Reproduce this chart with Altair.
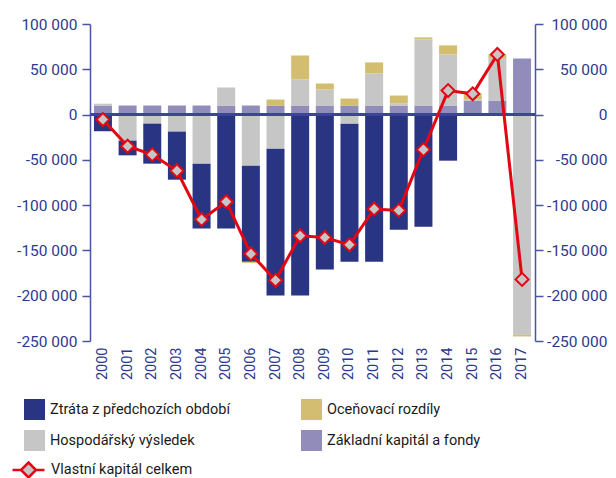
import altair as alt
import pandas as pd

years = [str(y) for y in range(2000, 2018)]

# Základní kapitál a fondy (purple)
zakladni = [10000, 10000, 10000, 10000, 10000, 10000, 10000, 10000, 10000,
            10000, 10000, 10000, 10000, 10000, 10000, 15500, 15500, 62000]
# Hospodářský výsledek (gray)
hospodarsky = [2000, -28800, -10000, -18800, -54200, 19900, -56400, -37600, 28800,
               17700, -10000, 35400, 2200, 73000, 56400, 1000, 47000, -243000]
# Ztráta z předchozích období (navy)
ztrata = [-18400, -16200, -44200, -53100, -71500, -125800, -106200, -162300, -199900,
          -171100, -152600, -162600, -127200, -123900, -50900, 0, -1000, 0]
# Oceňovací rozdíly (gold)
ocenovaci = [0, 0, 0, 0, 0, 0, -1100, 6600, 26500,
             6600, 7700, 12200, 8800, 2200, 10000, 7000, 4000, -2000]
# Vlastní kapitál celkem (line)
celkem = [-5500, -35000, -44200, -62000, -115800, -96200, -153800, -182900, -133800,
          -135700, -143800, -104300, -105800, -38700, 26500, 22900, 66400, -182000]

series_names = ["Základní kapitál a fondy", "Hospodářský výsledek",
                "Ztráta z předchozích období", "Oceňovací rozdíly"]
series_values = [zakladni, hospodarsky, ztrata, ocenovaci]

# column-major legend order (2 columns)
legend_order = ["Ztráta z předchozích období", "Hospodářský výsledek",
                "Oceňovací rozdíly", "Základní kapitál a fondy"]
legend_colors = ["#293583", "#c6c6c6", "#d2bd70", "#928cbb"]

rows = []
for k, (name, vals) in enumerate(zip(series_names, series_values)):
    for y, v in zip(years, vals):
        if v != 0:
            rows.append({"year": y, "series": name, "value": v, "ord": k})
bars_df = pd.DataFrame(rows)
line_df = pd.DataFrame({"year": years, "total": celkem,
                        "s": ["Vlastní kapitál celkem"] * len(years)})

FONT = "Roboto"
AXC = "#2d3a8c"
DOM = "#4a56a0"
ydomain = alt.Scale(domain=[-250000, 100000], nice=False, zero=False)
ticks = [-250000, -200000, -150000, -100000, -50000, 0, 50000, 100000]
lab = "(datum.value < 0 ? '-' : '') + replace(format(abs(datum.value), ','), ',', ' ')"

xenc = alt.X("year:N", title=None,
             scale=alt.Scale(paddingInner=0.27, paddingOuter=0.16),
             axis=alt.Axis(labelAngle=-90, domain=False, ticks=False, tickSize=0,
                           labelPadding=6, labelFont=FONT, labelFontSize=14.5,
                           labelColor=AXC))

left_axis = alt.Axis(orient="left", values=ticks, labelExpr=lab, tickSize=8,
                     labelPadding=5, grid=False, domainColor=DOM, tickColor=DOM,
                     domainWidth=1.5, tickWidth=1.5, labelFont=FONT,
                     labelFontSize=15.5, labelColor=AXC, title=None)
right_axis = alt.Axis(orient="right", values=ticks, labelExpr=lab, tickSize=8,
                      labelPadding=64, labelAlign="right", grid=False,
                      domainColor=DOM, tickColor=DOM, domainWidth=1.5, tickWidth=1.5,
                      labelFont=FONT, labelFontSize=15.5, labelColor=AXC, title=None)

bars = alt.Chart(bars_df).mark_bar().encode(
    x=xenc,
    y=alt.Y("value:Q", stack="zero", scale=ydomain, axis=left_axis),
    color=alt.Color("series:N",
                    scale=alt.Scale(domain=legend_order, range=legend_colors),
                    legend=alt.Legend(title=None, orient="none", legendX=-66,
                                      legendY=375, columns=2, columnPadding=70,
                                      rowPadding=10, symbolType="square",
                                      symbolSize=441, symbolStrokeWidth=0,
                                      labelFont=FONT, labelFontSize=14.5,
                                      labelLimit=400,
                                      labelColor="#1a1a1a", labelOffset=5,
                                      padding=0)),
    order=alt.Order("ord:Q", sort="ascending"),
)

zero = alt.Chart(line_df).mark_rule(color="#3b4795", strokeWidth=2).encode(
    y=alt.datum(0, scale=ydomain)
)

group_a = alt.layer(bars, zero)

line = alt.Chart(line_df).mark_line(color="#e30613", strokeWidth=3).encode(
    x=xenc,
    y=alt.Y("total:Q", scale=ydomain, axis=right_axis),
)

leg_path = "M-2.13,0H-1M1,0H2.13M0,-1L1,0L0,1L-1,0Z"
points = alt.Chart(line_df).mark_point(shape="diamond", filled=True,
                                       fill="#c6c6c6", strokeWidth=2,
                                       size=169, opacity=1).encode(
    x=xenc,
    y=alt.Y("total:Q", scale=ydomain, axis=right_axis),
    stroke=alt.Stroke("s:N", scale=alt.Scale(domain=["Vlastní kapitál celkem"],
                                             range=["#e30613"]),
                      legend=alt.Legend(title=None, orient="none", legendX=-70.5,
                                        legendY=437, symbolType=leg_path,
                                        symbolSize=225, symbolStrokeWidth=2.5,
                                        symbolFillColor="#c6c6c6",
                                        labelFont=FONT, labelFontSize=14.5,
                                        labelLimit=400,
                                        labelColor="#1a1a1a", labelOffset=13.5,
                                        padding=0)),
)

group_b = alt.layer(line, points)

chart = alt.layer(group_a, group_b).resolve_scale(
    y="independent"
).properties(
    width=445, height=317,
    autosize=alt.AutoSizeParams(type="none"),
    padding={"left": 82, "top": 16, "right": 73, "bottom": 145},
).configure_view(stroke=None)

chart.save("out.html", embed_options={"renderer": "svg", "actions": False})
